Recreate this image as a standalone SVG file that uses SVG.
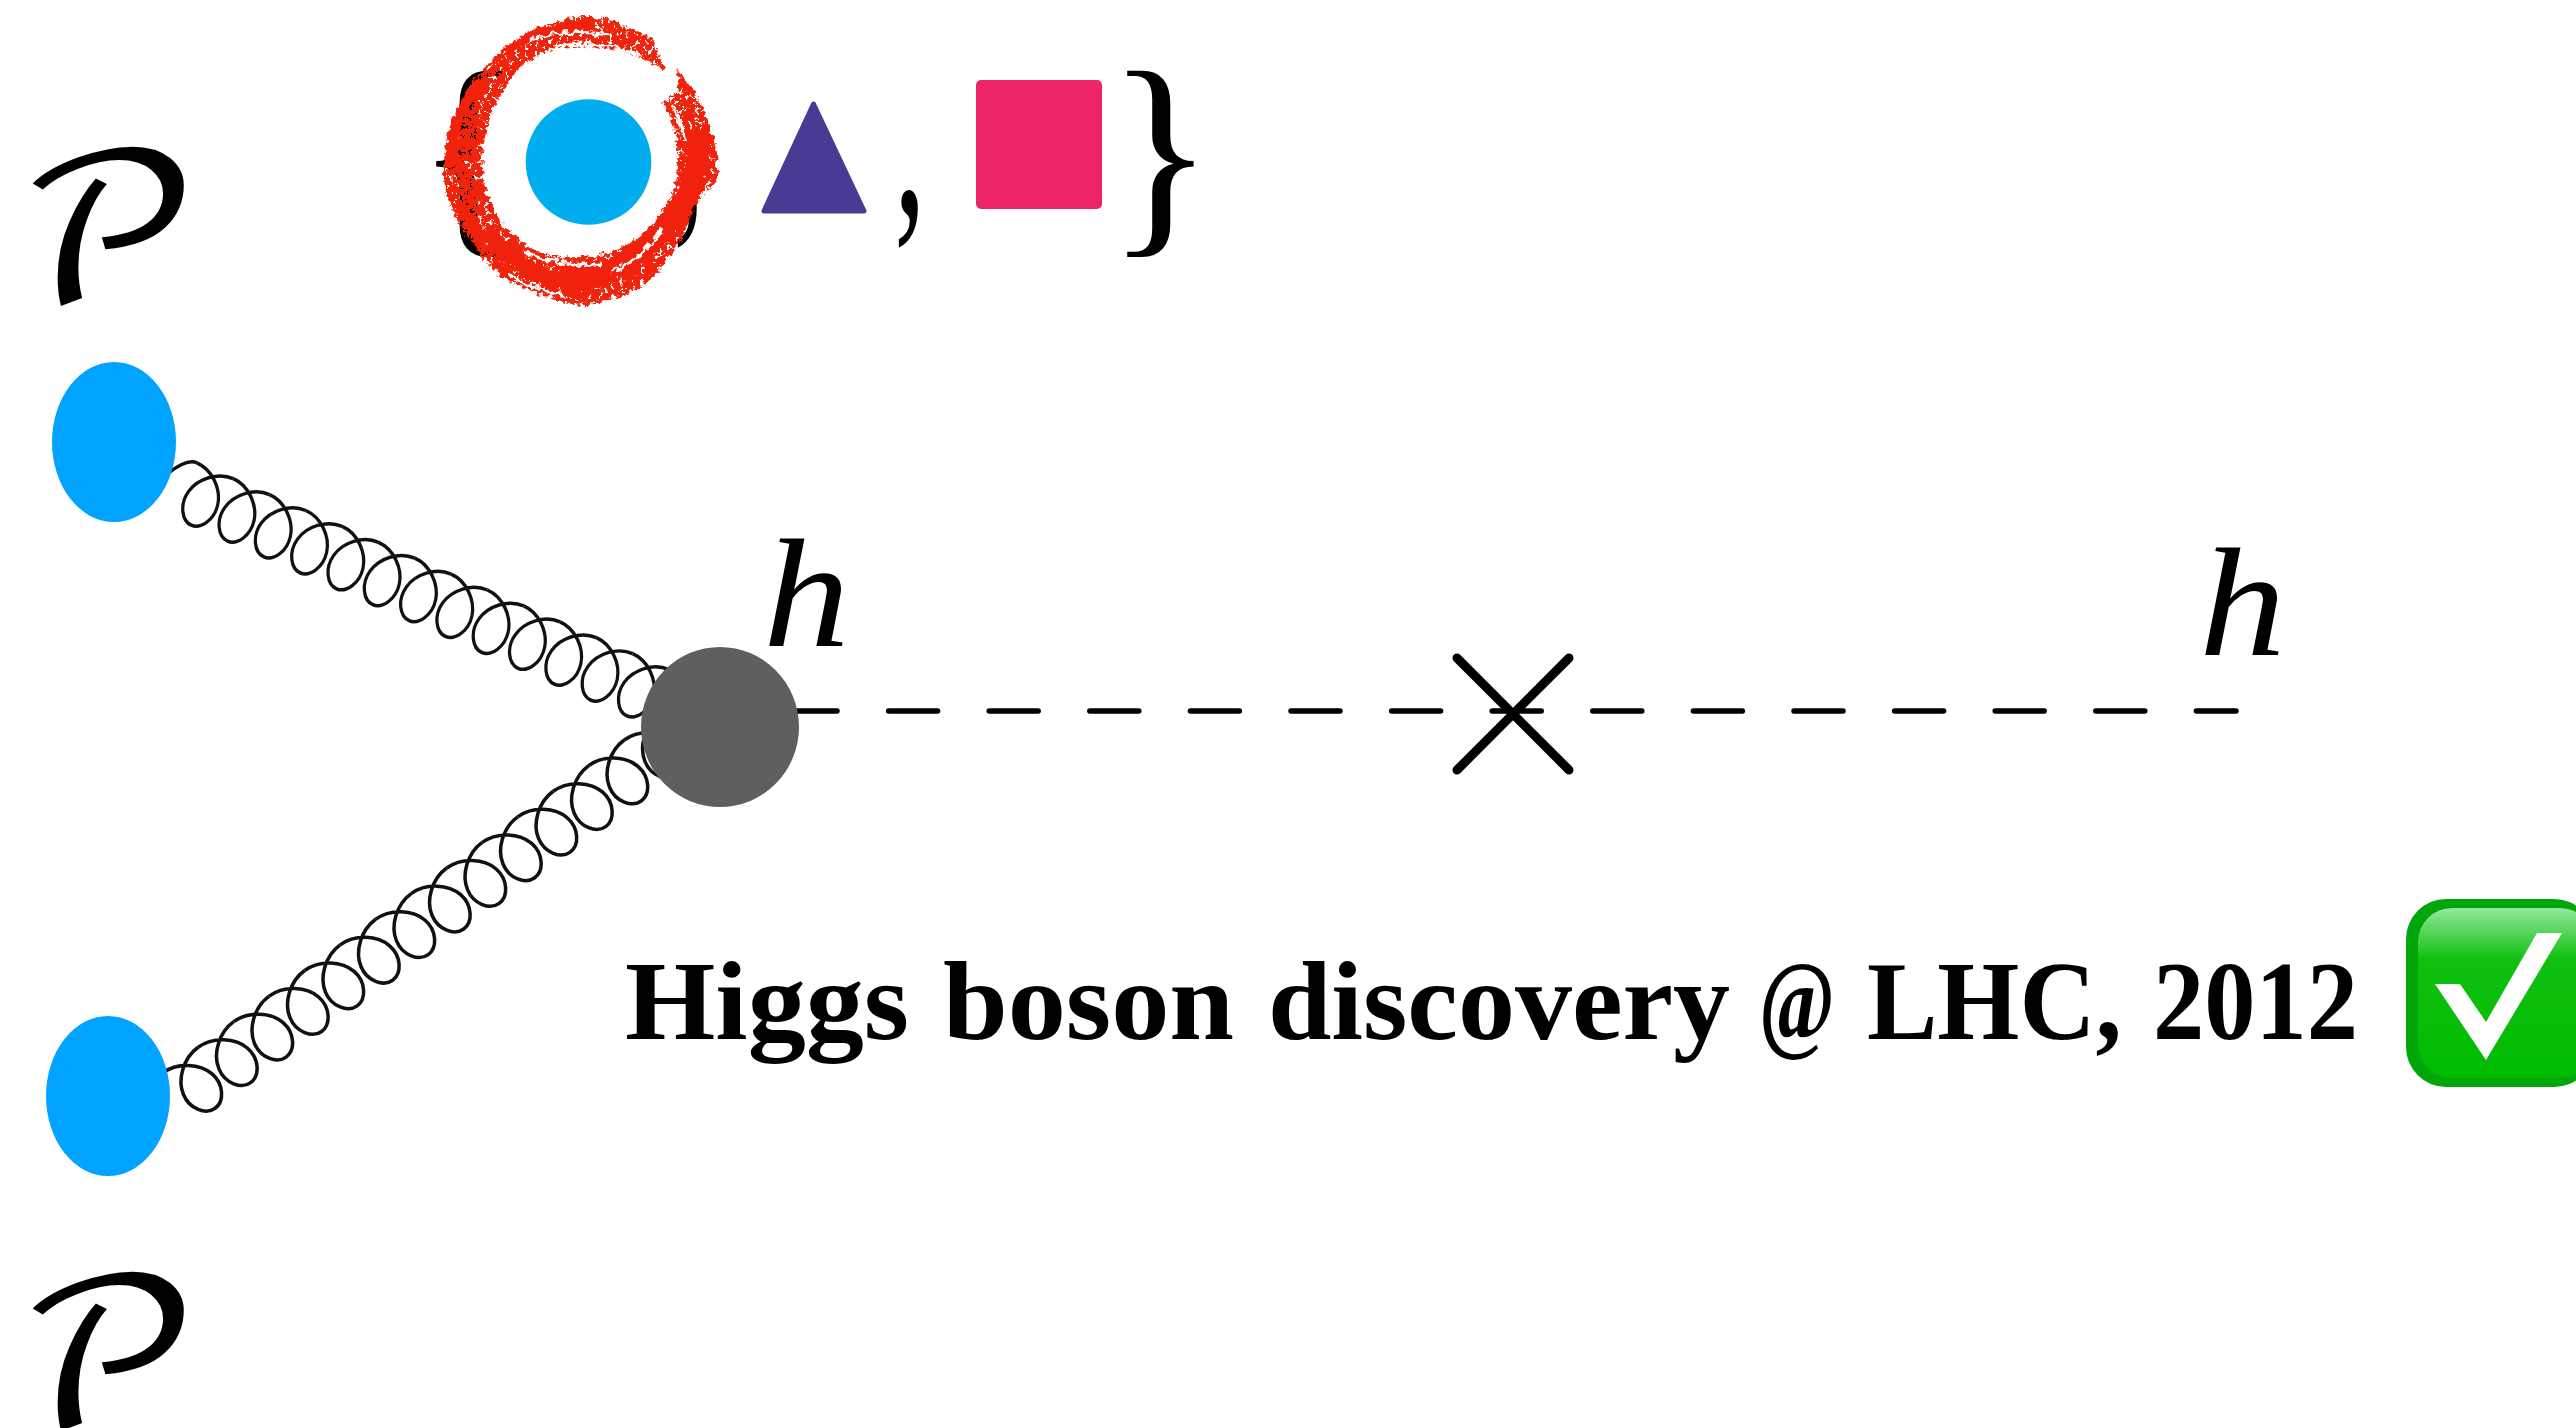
<svg xmlns="http://www.w3.org/2000/svg" width="2576" height="1428" viewBox="0 0 2576 1428">
<style>
.gl{fill:none;stroke:#111;stroke-width:3.2}
.math{font-family:"DejaVu Math TeX Gyre","Liberation Serif",serif;fill:#000;font-size:170px}
.h{font-family:"Liberation Serif",serif;font-style:italic;font-size:155px;fill:#000}
.br{font-family:"Liberation Serif",serif;font-size:212px;fill:#000}
.title{font-family:"Liberation Serif",serif;font-weight:bold;font-size:112px;fill:#000}
.x{stroke:#000;stroke-width:9;stroke-linecap:round;fill:none}
.ringbody{fill:#f0240c}
</style>
<defs>
<path id="loop" d="M0-27c16.9 0 32.6 12.9 35.95 27c3.3 14.1-5.75 27-16.05 27c-10.3 0-19.4-12.9-16.05-27c3.3-14.1 19-27 35.95-27"/>
<g id="coil">
<path d="M-22-8C-15-20-8-27 0-27"/>
<use href="#loop"/>
<use href="#loop" x="39.8"/>
<use href="#loop" x="79.6"/>
<use href="#loop" x="119.4"/>
<use href="#loop" x="159.2"/>
<use href="#loop" x="199"/>
<use href="#loop" x="238.8"/>
<use href="#loop" x="278.6"/>
<use href="#loop" x="318.4"/>
<use href="#loop" x="358.2"/>
<use href="#loop" x="398"/>
<use href="#loop" x="437.8"/>
<use href="#loop" x="477.6"/>
<use href="#loop" x="517.4"/>
</g>
<filter id="rough" x="-10%" y="-10%" width="120%" height="120%">
<feTurbulence type="fractalNoise" baseFrequency="0.16" numOctaves="2" seed="4" result="n"/>
<feDisplacementMap in="SourceGraphic" in2="n" scale="9" xChannelSelector="R" yChannelSelector="G"/>
</filter>
<filter id="speck" x="-10%" y="-10%" width="120%" height="120%" color-interpolation-filters="sRGB">
<feTurbulence type="fractalNoise" baseFrequency="0.2" numOctaves="2" seed="7" result="n"/>
<feColorMatrix in="n" type="matrix" values="0 0 0 0 0 0 0 0 0 0 0 0 0 0 0 18 0 0 0 -10.6" result="holes"/>
<feComposite in="SourceGraphic" in2="holes" operator="out" result="c"/>
<feDisplacementMap in="c" in2="n" scale="9" xChannelSelector="R" yChannelSelector="G"/>
</filter>
<linearGradient id="gl1" x1="0" y1="0" x2="0" y2="1">
<stop offset="0" stop-color="#93e89e"/><stop offset="0.3" stop-color="#10c010"/><stop offset="1" stop-color="#00bb00"/>
</linearGradient>
</defs>

<g id="connectors">
<use href="#coil" class="gl" transform="translate(185 490) rotate(23.65) scale(.996 1.1)"/>
<use href="#coil" class="gl" transform="translate(180 1097) rotate(-35.8) scale(1.1 1.1)"/>
<line x1="788" y1="711" x2="2236" y2="711" stroke="#000" stroke-width="5.5" stroke-linecap="round" stroke-dasharray="49 51.6"/>
</g>

<g id="set-braces">
<text class="br" transform="translate(416 227) scale(1.05 1.06)">{</text>
<text class="br" transform="translate(673 213) scale(.6 1.06)">,</text>
<text class="br" transform="translate(894 213) scale(.6 1.06)">,</text>
<text class="br" transform="translate(1107 227) scale(1.05 1.06)">}</text>
</g>

<g id="ring">
<path class="ringbody" filter="url(#speck)" d="M650 38C625 22 600 16 587 17C545 18 510 40 490 62C465 85 447 125 443 170C447 210 458 225 473 243C490 270 510 285 530 290C550 300 570 306 587 305C625 300 650 285 660 268C680 245 690 225 694 203C712 190 718 180 718 170C718 140 705 100 677 70C680 85 678 92 663 103C675 125 678 140 677 150C678 170 680 175 670 197C660 220 645 235 630 243C610 255 590 258 570 257C550 258 530 250 520 240C505 230 497 217 493 207C483 190 481 170 483 160C483 140 487 125 493 110C505 85 515 70 530 60C545 50 565 46 583 47C605 47 620 50 630 53C645 60 655 65 665 70C660 60 660 50 650 38Z"/>
<g fill="none" stroke="#f0240c" filter="url(#rough)">
<path stroke-width="22" d="M695 130C706 165 690 205 655 238C635 258 600 280 560 284"/>
<path stroke-width="16" d="M488 232C508 258 530 272 560 284"/>
<path stroke-width="10" d="M452 165C448 135 462 105 478 84"/>
<path stroke-width="7" d="M505 52C535 30 560 26 595 25"/>
<path stroke-width="10" d="M462 205L482 245"/>
</g>
<g fill="none" stroke="#fff" stroke-width="3" filter="url(#rough)">
<path d="M528 40C550 32 580 30 610 35"/>
<path d="M545 52C565 42 590 40 640 55"/>
<path d="M510 275C530 288 550 292 565 296"/>
<path d="M525 252C545 262 575 266 600 265"/>
<path d="M610 272C630 265 650 250 662 228"/>
<path d="M672 105C680 118 682 130 684 138"/>
</g>
<ellipse cx="588.5" cy="162" rx="62.8" ry="62.8" fill="#00aeef"/>
</g>

<g id="triangle"><path d="M813.5 104L864 211H764Z" fill="#4a3a94" stroke="#4a3a94" stroke-width="5" stroke-linejoin="round"/></g>
<g id="square"><rect x="976" y="80" width="126" height="129" rx="5" fill="#ee2469"/></g>

<g id="proton-top">
<ellipse cx="114" cy="442" rx="62" ry="80" fill="#00a3ff"/>
<text class="math" transform="translate(15 302) scale(1.3 1.19)">𝒫</text>
</g>
<g id="proton-bottom">
<ellipse cx="108" cy="1096" rx="62" ry="80" fill="#00a3ff"/>
<text class="math" transform="translate(15 1427) scale(1.3 1.19)">𝒫</text>
</g>
<g id="vertex"><ellipse cx="720" cy="727" rx="79" ry="80" fill="#5f5f5f"/></g>
<g id="label-h1"><text class="h" transform="translate(763 646) scale(1.12 1)">h</text></g>
<g id="label-h2"><text class="h" transform="translate(2199 655) scale(1.12 1)">h</text></g>
<g id="cross"><path class="x" d="M1457 658L1569 770M1569 658L1457 770"/></g>
<g id="caption"><text class="title" y="1039"><tspan x="625" textLength="284" lengthAdjust="spacingAndGlyphs">Higgs</tspan> <tspan x="943" textLength="291" lengthAdjust="spacingAndGlyphs">boson</tspan> <tspan x="1268" textLength="462" lengthAdjust="spacingAndGlyphs">discovery</tspan> <tspan x="1759" textLength="76" lengthAdjust="spacingAndGlyphs">@</tspan> <tspan x="1867" textLength="255" lengthAdjust="spacingAndGlyphs">LHC,</tspan> <tspan x="2153" textLength="205" lengthAdjust="spacingAndGlyphs">2012</tspan></text></g>
<g id="checkmark">
<rect x="2406" y="899" width="188" height="188" rx="40" fill="#00a60a"/>
<rect x="2418" y="908" width="176" height="170" rx="34" fill="url(#gl1)"/>
<path d="M2435 984H2460L2486 1022L2537 933H2562L2486 1060Z" fill="#fff"/>
</g>
</svg>
